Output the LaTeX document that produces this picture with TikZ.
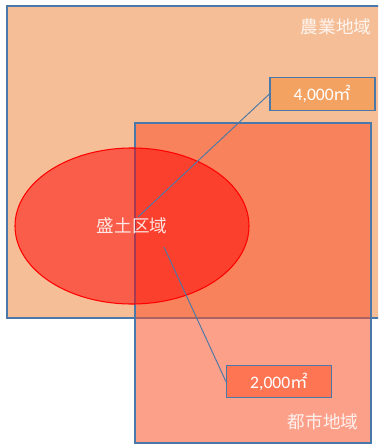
\documentclass[tikz,border=0pt]{standalone}
\usepackage{fontspec}
\setmainfont{Carlito}
\newfontfamily\cjk{Noto Sans CJK JP}
\usetikzlibrary{shapes.geometric}
\definecolor{rand}{HTML}{4A78A8}
\definecolor{nougyou}{HTML}{F5BE97}
\definecolor{toshi}{HTML}{FB522A}
\definecolor{kanban}{HTML}{F3A262}
\definecolor{kanbanb}{HTML}{FE7554}

\begin{document}
\begin{tikzpicture}[x=0.03cm, y=-0.03cm,
		area/.style={draw=rand, line width=1pt},
		label/.style={text=white, text opacity=0.85, font=\cjk\fontsize{15}{18}\selectfont},
		menseki/.style={draw=rand, line width=1pt, minimum width=3.15cm, minimum height=0.97cm, inner sep=0pt, text=white, font=\fontsize{15}{18}\selectfont},
		sen/.style={draw=rand, line width=0.8pt}]
		\useasboundingbox (0, 0) rectangle (378, 445);
		\fill[white] (0, 0) rectangle (378, 445);
		\begin{scope}
			\clip (0, 0) rectangle (378, 445);
			\draw[area, fill=nougyou] (7, 6) rectangle (390, 318);
		\end{scope}
		\draw[area, fill=toshi, fill opacity=0.55] (135, 123) rectangle (371, 443);
		\node[ellipse, draw=red, line width=0.9pt, fill=red, fill opacity=0.5, label, minimum width=7.02cm, minimum height=4.68cm] (morido) at (132, 226) {盛土区域};
		\node[label] (nougyouL) at (336, 27) {農業地域};
		\node[label] (toshiL) at (323, 422) {都市地域};
		\node[menseki, fill=kanban] (m1) at (322.5, 94) {4,000{\cjk ㎡}};
		\node[menseki, fill=kanbanb] (m2) at (279, 381.5) {2,000{\cjk ㎡}};
		\coordinate (p1) at (138, 217);
		\coordinate (p2) at (164, 247);
		\draw[sen] (p1) -- (m1.west);
		\draw[sen] (p2) -- (m2.west);
	\end{tikzpicture}
\end{document}
